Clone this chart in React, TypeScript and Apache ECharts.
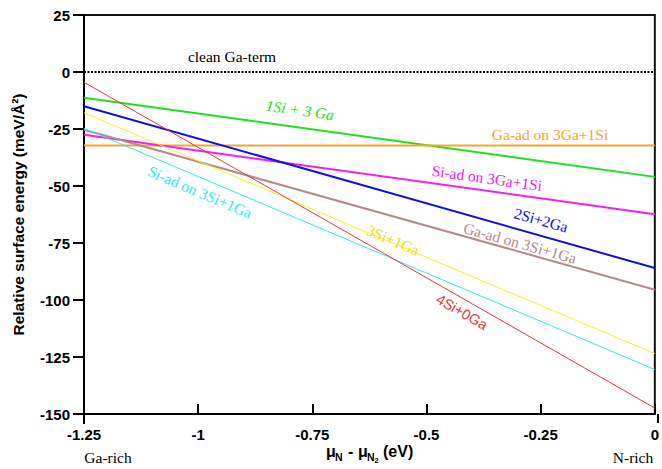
import React, { useEffect, useRef } from "react";
import * as echarts from "echarts";

// chemical potential range (eV)
const muRange = [-1.25, 0];
// relative surface energies (meV/Å²) at mu = -1.25 and mu = 0
const cleanGa = [0, 0];
const si1Ga3 = [-11.3, -46];
const gaAd3Ga1Si = [-32.2, -32.2];
const siAd3Ga1Si = [-27.5, -62.4];
const si2Ga2 = [-15, -86];
const gaAd3Si1Ga = [-25.3, -95.5];
const si3Ga1 = [-17.9, -123.5];
const siAd3Si1Ga = [-24.7, -130.5];
const si4Ga0 = [-4.5, -147.4];

const yTicks = { min: -150, max: 25, interval: 25 };
const xTicks = { min: -1.25, max: 0, interval: 0.25 };

const pts = (v: number[]) => muRange.map((m, i) => [m, v[i]]);

const SERIF = "'Liberation Serif', 'DejaVu Serif', serif";
const SANS = "'Liberation Sans', Arial, sans-serif";

const deg = (d: number) => (d * Math.PI) / 180;

export default function App() {
  const ref = useRef<HTMLDivElement>(null);
  useEffect(() => {
    document.body.style.margin = "0";
    const chart = echarts.init(ref.current!, null, { renderer: "svg" });
    const line = (name: string, data: number[], color: string, width: number, type: any = "solid") => ({
      name,
      type: "line",
      data: pts(data),
      symbol: "none",
      lineStyle: { color, width, type },
      z: 3,
    });
    const label = (text: string, x: number, y: number, rot: number, fill: string, extra: any = {}) => ({
      type: "text",
      x,
      y,
      rotation: deg(-rot),
      z: 10,
      style: {
        text,
        fill,
        fontSize: 15.5,
        fontFamily: SERIF,
        align: "center",
        verticalAlign: "middle",
        ...extra,
      },
    });
    const sub = (text: string, x: number, y: number, size: number) => ({
      type: "text",
      x,
      y,
      style: { text, fill: "#000", fontSize: size, fontWeight: "bold", fontFamily: SANS, verticalAlign: "bottom" },
    });
    chart.setOption({
      animation: false,
      grid: {
        left: 84,
        right: 4,
        top: 15,
        bottom: 55,
        show: true,
        borderColor: "#111",
        borderWidth: 2,
      },
      xAxis: {
        type: "value",
        min: xTicks.min,
        max: xTicks.max,
        interval: xTicks.interval,
        splitLine: { show: false },
        axisLine: { show: true, onZero: false, lineStyle: { color: "#000", width: 2 } },
        axisTick: { show: true, inside: true, length: 10, lineStyle: { color: "#000", width: 2 } },
        axisLabel: {
          color: "#000",
          fontSize: 15,
          fontWeight: "bold",
          fontFamily: SANS,
          margin: 13,
          formatter: (v: number) => String(v),
        },
      },
      yAxis: {
        type: "value",
        min: yTicks.min,
        max: yTicks.max,
        interval: yTicks.interval,
        splitLine: { show: false },
        axisLine: { show: true, onZero: false, lineStyle: { color: "#000", width: 2 } },
        axisTick: { show: true, inside: false, length: 11, lineStyle: { color: "#000", width: 2 } },
        axisLabel: {
          color: "#000",
          fontSize: 15,
          fontWeight: "bold",
          fontFamily: SANS,
          margin: 14,
        },
        name: "Relative surface energy (meV/Å²)",
        nameLocation: "middle",
        nameGap: 58,
        nameTextStyle: { color: "#000", fontSize: 15.5, fontWeight: "bold", fontFamily: SANS },
      },
      series: [
        line("clean Ga-term", cleanGa, "#000", 2, [2, 1.5]),
        line("1Si + 3 Ga", si1Ga3, "#22dd22", 2),
        line("Ga-ad on 3Ga+1Si", gaAd3Ga1Si, "#f5a52a", 2),
        line("Si-ad on 3Ga+1Si", siAd3Ga1Si, "#f020f0", 2),
        line("2Si+2Ga", si2Ga2, "#1010e8", 2),
        line("Ga-ad on 3Si+1Ga", gaAd3Si1Ga, "#b48c8c", 2),
        line("3Si+1Ga", si3Ga1, "#f5f020", 1),
        line("Si-ad on 3Si+1Ga", siAd3Si1Ga, "#30e8f0", 1),
        line("4Si+0Ga", si4Ga0, "#e83838", 1),
      ],
      graphic: [
        { type: "line", shape: { x1: 84, y1: 414, x2: 84, y2: 424 }, style: { stroke: "#000", lineWidth: 2 }, z: 10 },
        { type: "line", shape: { x1: 658, y1: 414, x2: 658, y2: 423 }, style: { stroke: "#000", lineWidth: 2 }, z: 10 },
        label("clean Ga-term", 232, 56, 0, "#000"),
        label("1Si + 3 Ga", 300, 110, 8, "#22dd22", { fontStyle: "italic" }),
        label("Ga-ad on 3Ga+1Si", 550, 134, 0, "#f5a52a"),
        label("Si-ad on 3Ga+1Si", 487, 178, 8, "#f020f0"),
        label("2Si+2Ga", 541, 220, 15.5, "#1010e8"),
        label("Ga-ad on 3Si+1Ga", 520, 243, 15.5, "#b48c8c"),
        label("3Si+1Ga", 393, 240, 23, "#e8e020"),
        label("Si-ad on 3Si+1Ga", 200, 192, 23, "#30e8f0"),
        label("4Si+0Ga", 462, 312, 30, "#e83838", { fontFamily: SANS, fontSize: 14.5 }),
        label("Ga-rich", 108, 457, 0, "#000"),
        label("N-rich", 633, 457, 0, "#000"),
        {
          type: "group",
          x: 326,
          y: 459,
          children: [
            sub("μ", 0, 0, 16),
            sub("N", 9, 3, 10.5),
            sub("-", 22, 0, 16),
            sub("μ", 32, 0, 16),
            sub("N", 41, 3, 10.5),
            sub("2", 48.5, 5, 7),
            sub("(eV)", 57, 0, 16),
          ],
        },
      ],
    });
    return () => chart.dispose();
  }, []);
  return <div ref={ref} style={{ width: 662, height: 469 }} />;
}
